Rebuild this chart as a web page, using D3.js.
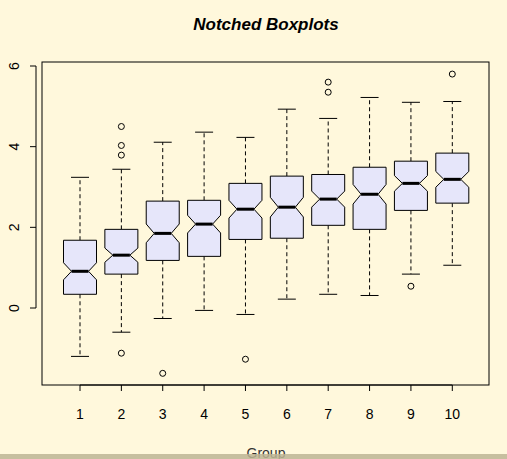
<!DOCTYPE html>
<html><head><meta charset="utf-8">
<script src="https://cdn.jsdelivr.net/npm/d3@7/dist/d3.min.js"></script>
<style>body{margin:0;background:#FFF8DC}</style></head>
<body><script>
const groups = ["1","2","3","4","5","6","7","8","9","10"];
const whiskerHigh = [3.24,3.44,4.11,4.36,4.23,4.93,4.70,5.22,5.10,5.12];
const q3 = [1.68,1.95,2.65,2.67,3.09,3.27,3.31,3.49,3.64,3.84];
const medians = [0.91,1.31,1.85,2.08,2.45,2.50,2.70,2.82,3.09,3.19];
const q1 = [0.34,0.84,1.18,1.28,1.70,1.73,2.05,1.95,2.42,2.60];
const whiskerLow = [-1.20,-0.60,-0.26,-0.06,-0.16,0.22,0.34,0.31,0.84,1.06];
const outliers = [[],[4.50,4.03,3.79,-1.12],[-1.62],[],[-1.27],[],[5.60,5.35],[],[0.54],[5.80]];
const nPerGroup = 100;
const yTicks = [0,2,4,6];
const W=507,H=459;
const svg=d3.select("body").append("svg").attr("width",W).attr("height",H);
svg.append("rect").attr("width",W).attr("height",H).attr("fill","#FFF8DC");
const L=42,R=489,T=62,B=385;
const x=d3.scaleLinear().domain([1,10]).range([80,452.3]);
const y=d3.scaleLinear().domain([0,6]).range([308,66]);
const g=svg.append("g");
g.append("rect").attr("x",L).attr("y",T).attr("width",R-L).attr("height",B-T).attr("fill","none").attr("stroke","#000");
const font="Liberation Sans, Arial, sans-serif";
const ya=svg.append("g");
ya.append("line").attr("x1",L-6).attr("x2",L-6).attr("y1",y(0)).attr("y2",y(6)).attr("stroke","#000");
yTicks.forEach(t=>{
  ya.append("line").attr("x1",L-6).attr("x2",L-12).attr("y1",y(t)).attr("y2",y(t)).attr("stroke","#000");
  ya.append("text").attr("transform",`translate(19,${y(t)}) rotate(-90)`).attr("text-anchor","middle")
    .attr("font-family",font).attr("font-size",14).text(t);
});
const xa=svg.append("g");
xa.append("line").attr("x1",x(1)).attr("x2",x(10)).attr("y1",B).attr("y2",B).attr("stroke","#000");
groups.forEach((gname,i)=>{
  const cx=x(i+1);
  xa.append("line").attr("x1",cx).attr("x2",cx).attr("y1",B).attr("y2",B+6).attr("stroke","#000");
  xa.append("text").attr("x",cx).attr("y",419).attr("text-anchor","middle").attr("font-family",font).attr("font-size",14).text(gname);
});
svg.append("text").attr("x",266).attr("y",30).attr("text-anchor","middle").attr("font-family",font)
  .attr("font-size",17).attr("font-weight","bold").attr("font-style","italic").text("Notched Boxplots");
svg.append("text").attr("x",266).attr("y",458).attr("text-anchor","middle").attr("font-family",font)
  .attr("font-size",14).attr("fill","#333").text("Group");
svg.append("rect").attr("x",0).attr("y",454).attr("width",W).attr("height",5).attr("fill","#bdb594").attr("opacity",0.85);
const hw=16.5, nw=8.5, cap=9;
groups.forEach((gname,i)=>{
  const cx=x(i+1);
  const iqr=q3[i]-q1[i];
  const nh=1.58*iqr/Math.sqrt(nPerGroup);
  const b=g.append("g");
  b.append("line").attr("x1",cx).attr("x2",cx).attr("y1",y(q3[i])).attr("y2",y(whiskerHigh[i])).attr("stroke","#000").attr("stroke-dasharray","4,3");
  b.append("line").attr("x1",cx).attr("x2",cx).attr("y1",y(q1[i])).attr("y2",y(whiskerLow[i])).attr("stroke","#000").attr("stroke-dasharray","4,3");
  [whiskerHigh[i],whiskerLow[i]].forEach(v=>b.append("line").attr("x1",cx-cap).attr("x2",cx+cap).attr("y1",y(v)).attr("y2",y(v)).attr("stroke","#000"));
  const pts=[[cx-hw,y(q3[i])],[cx+hw,y(q3[i])],[cx+hw,y(medians[i]+nh)],[cx+nw,y(medians[i])],[cx+hw,y(medians[i]-nh)],
    [cx+hw,y(q1[i])],[cx-hw,y(q1[i])],[cx-hw,y(medians[i]-nh)],[cx-nw,y(medians[i])],[cx-hw,y(medians[i]+nh)]];
  b.append("polygon").attr("points",pts.map(p=>p.join(",")).join(" ")).attr("fill","#E6E6FA").attr("stroke","#000");
  b.append("line").attr("x1",cx-nw).attr("x2",cx+nw).attr("y1",y(medians[i])).attr("y2",y(medians[i])).attr("stroke","#000").attr("stroke-width",3);
  outliers[i].forEach(v=>b.append("circle").attr("cx",cx).attr("cy",y(v)).attr("r",3).attr("fill","none").attr("stroke","#000"));
});
</script></body></html>
